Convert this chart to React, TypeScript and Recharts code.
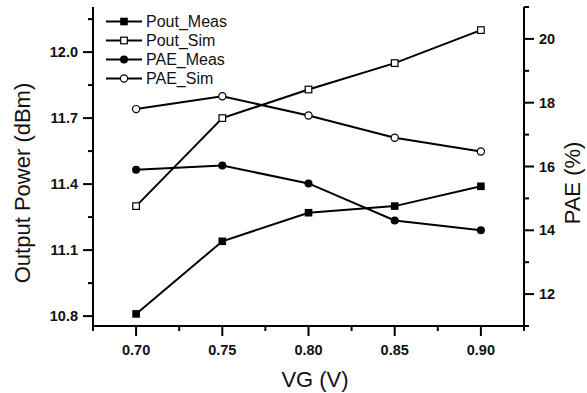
import { LineChart, Line, XAxis, YAxis, Legend, Label } from 'recharts';

// VG (V)
const vg = [0.7, 0.75, 0.8, 0.85, 0.9];
// Output power (dBm), left axis
const poutMeas = [10.81, 11.14, 11.27, 11.3, 11.39];
const poutSim = [11.3, 11.7, 11.83, 11.95, 12.1];
// PAE (%), right axis
const paeMeas = [15.9, 16.03, 15.47, 14.31, 14.0];
const paeSim = [17.8, 18.2, 17.6, 16.9, 16.47];

const xMajor = [0.7, 0.75, 0.8, 0.85, 0.9];
const xTicks = [0.675, 0.7, 0.725, 0.75, 0.775, 0.8, 0.825, 0.85, 0.875, 0.9, 0.925];
const leftMajor = [10.8, 11.1, 11.4, 11.7, 12.0];
const leftTicks = [10.8, 10.95, 11.1, 11.25, 11.4, 11.55, 11.7, 11.85, 12.0, 12.15];
const rightMajor = [12, 14, 16, 18, 20];
const rightTicks = [11, 12, 13, 14, 15, 16, 17, 18, 19, 20, 21];

const data = vg.map((v, i) => ({
  vg: v,
  poutMeas: poutMeas[i],
  poutSim: poutSim[i],
  paeMeas: paeMeas[i],
  paeSim: paeSim[i],
}));

const FONT = '"Liberation Sans", Arial, Helvetica, sans-serif';
const isMajor = (v: number, list: number[]) => list.some((m) => Math.abs(m - v) < 1e-6);

type Kind = 'fsq' | 'osq' | 'fci' | 'oci';

const Marker = ({ kind, cx, cy }: { kind: Kind; cx: number; cy: number }) => {
  if (kind === 'fsq') return <rect x={cx - 3.8} y={cy - 3.8} width={7.6} height={7.6} fill="#000" />;
  if (kind === 'osq')
    return <rect x={cx - 3.3} y={cy - 3.3} width={6.6} height={6.6} fill="#fff" stroke="#000" strokeWidth={1.2} />;
  if (kind === 'fci') return <circle cx={cx} cy={cy} r={4} fill="#000" />;
  return <circle cx={cx} cy={cy} r={3.6} fill="#fff" stroke="#000" strokeWidth={1.2} />;
};

const dotFor = (kind: Kind) => (p: any) =>
  <Marker key={`${kind}-${p.index}`} kind={kind} cx={p.cx} cy={p.cy} />;

const tickText = {
  fontFamily: FONT,
  fontSize: 14.5,
  fontWeight: 700,
  fill: '#111',
};

const BottomTick = (p: any) => {
  const major = isMajor(p.payload.value, xMajor);
  return (
    <g>
      <line x1={p.x} x2={p.x} y1={p.y} y2={p.y + (major ? 10 : 5)} stroke="#000" strokeWidth={2} />
      {major && (
        <text x={p.x} y={p.y + 29} textAnchor="middle" style={tickText}>
          {p.payload.value.toFixed(2)}
        </text>
      )}
    </g>
  );
};

const LeftTick = (p: any) => {
  const major = isMajor(p.payload.value, leftMajor);
  return (
    <g>
      <line x1={p.x - (major ? 10 : 5)} x2={p.x} y1={p.y} y2={p.y} stroke="#000" strokeWidth={2} />
      {major && (
        <text x={p.x - 15} y={p.y + 5} textAnchor="end" style={tickText}>
          {p.payload.value.toFixed(1)}
        </text>
      )}
    </g>
  );
};

const RightTick = (p: any) => {
  const major = isMajor(p.payload.value, rightMajor);
  return (
    <g>
      <line x1={p.x} x2={p.x + (major ? 10 : 5)} y1={p.y} y2={p.y} stroke="#000" strokeWidth={2} />
      {major && (
        <text x={p.x + 15} y={p.y + 5} textAnchor="start" style={tickText}>
          {p.payload.value}
        </text>
      )}
    </g>
  );
};

const titleStyle = { fontFamily: FONT, fontSize: 22, fill: '#111' };

const legendItems: { name: string; kind: Kind }[] = [
  { name: 'Pout_Meas', kind: 'fsq' },
  { name: 'Pout_Sim', kind: 'osq' },
  { name: 'PAE_Meas', kind: 'fci' },
  { name: 'PAE_Sim', kind: 'oci' },
];

const LegendBox = () => (
  <div style={{ fontFamily: FONT, fontSize: 16, color: '#111' }}>
    {legendItems.map((it) => (
      <div key={it.name} style={{ display: 'flex', alignItems: 'center', height: 19 }}>
        <svg width={38} height={19} style={{ display: 'block' }}>
          <line x1={1} x2={37} y1={9.5} y2={9.5} stroke="#000" strokeWidth={2} />
          <Marker kind={it.kind} cx={19} cy={9.5} />
        </svg>
        <span style={{ marginLeft: 3, lineHeight: '19px' }}>{it.name}</span>
      </div>
    ))}
  </div>
);

export default function App() {
  return (
    <div style={{ position: 'absolute', left: 0, top: 0, width: 587, height: 393, background: '#fff' }}>
      <LineChart width={587} height={393} data={data} margin={{ top: 7, right: 0, bottom: 0, left: 0 }}>
        <XAxis
          dataKey="vg"
          type="number"
          domain={[0.675, 0.925]}
          ticks={xTicks}
          interval={0}
          height={67}
          tickSize={0}
          tickMargin={0}
          tickLine={false}
          axisLine={{ stroke: '#000', strokeWidth: 2 }}
          tick={BottomTick}
        >
          <Label
            content={() => (
              <text x={315} y={387} textAnchor="middle" style={titleStyle}>
                VG (V)
              </text>
            )}
          />
        </XAxis>
        <YAxis
          yAxisId="pout"
          orientation="left"
          type="number"
          domain={[10.755, 12.205]}
          ticks={leftTicks}
          interval={0}
          width={93}
          tickSize={0}
          tickMargin={0}
          tickLine={false}
          axisLine={{ stroke: '#000', strokeWidth: 2 }}
          tick={LeftTick}
        >
          <Label
            content={() => (
              <text transform="translate(30,183) rotate(-90)" textAnchor="middle" style={titleStyle}>
                Output Power (dBm)
              </text>
            )}
          />
        </YAxis>
        <YAxis
          yAxisId="pae"
          orientation="right"
          type="number"
          domain={[11, 21]}
          ticks={rightTicks}
          interval={0}
          width={63}
          tickSize={0}
          tickMargin={0}
          tickLine={false}
          axisLine={{ stroke: '#000', strokeWidth: 2 }}
          tick={RightTick}
        >
          <Label
            content={() => (
              <text transform="translate(580,183) rotate(-90)" textAnchor="middle" style={titleStyle}>
                PAE (%)
              </text>
            )}
          />
        </YAxis>
        <Legend
          layout="vertical"
          align="center"
          verticalAlign="middle"
          content={LegendBox}
          wrapperStyle={{ left: 105, top: 12, width: 'auto', height: 'auto' }}
        />
        <Line yAxisId="pout" dataKey="poutMeas" stroke="#000" strokeWidth={2} dot={dotFor('fsq')} isAnimationActive={false} />
        <Line yAxisId="pout" dataKey="poutSim" stroke="#000" strokeWidth={2} dot={dotFor('osq')} isAnimationActive={false} />
        <Line yAxisId="pae" dataKey="paeMeas" stroke="#000" strokeWidth={2} dot={dotFor('fci')} isAnimationActive={false} />
        <Line yAxisId="pae" dataKey="paeSim" stroke="#000" strokeWidth={2} dot={dotFor('oci')} isAnimationActive={false} />
      </LineChart>
    </div>
  );
}
